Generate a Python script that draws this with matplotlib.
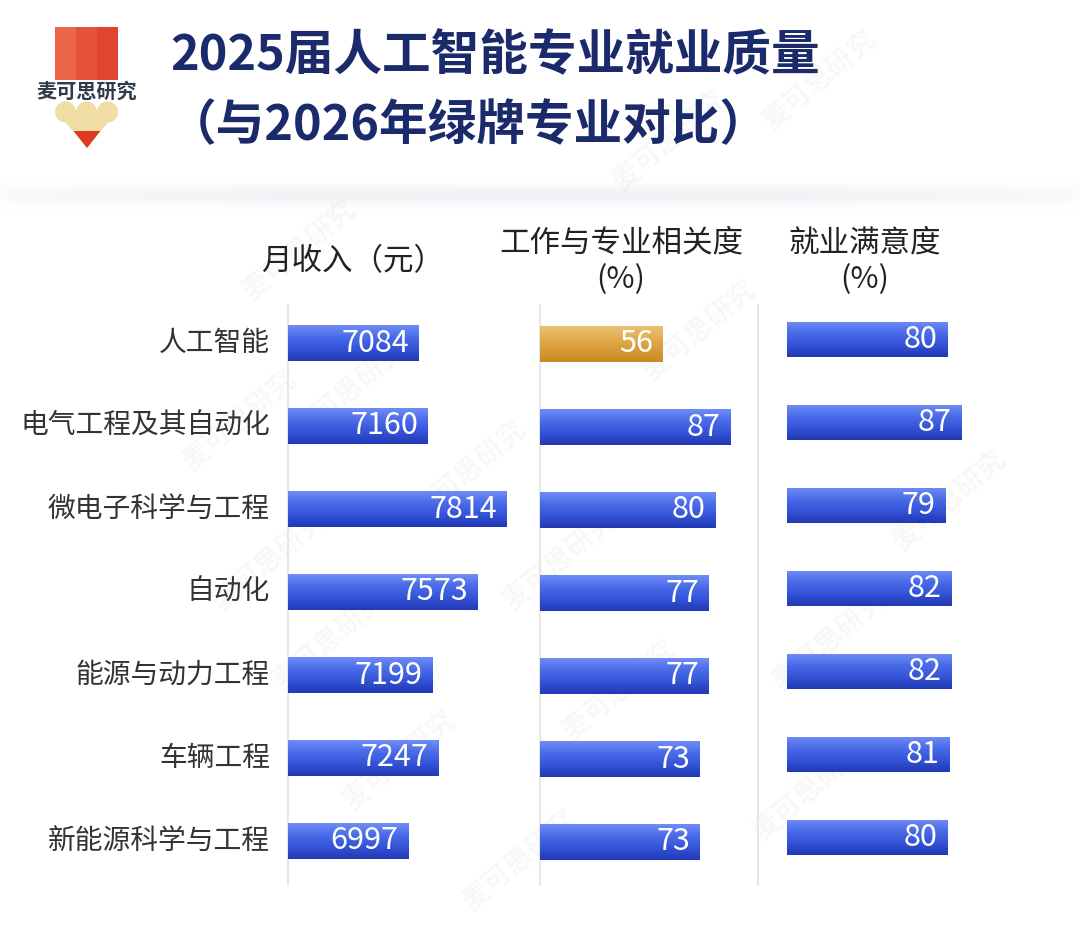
import numpy as np
import matplotlib
matplotlib.use("Agg")
import matplotlib.pyplot as plt
from matplotlib.colors import LinearSegmentedColormap
from matplotlib.patches import Rectangle, Polygon, Circle

plt.rcParams['font.family'] = ['Noto Sans CJK SC', 'DejaVu Sans']

# data
majors = ["人工智能", "电气工程及其自动化", "微电子科学与工程", "自动化",
          "能源与动力工程", "车辆工程", "新能源科学与工程"]
income = [7084, 7160, 7814, 7573, 7199, 7247, 6997]
relevance = [56, 87, 80, 77, 77, 73, 73]
satisfaction = [80, 87, 79, 82, 82, 81, 80]

W, H = 1080, 932
fig = plt.figure(figsize=(W / 100, H / 100), dpi=100)
fig.patch.set_facecolor("white")

# background axes in pixel coordinates
bg = fig.add_axes([0, 0, 1, 1], zorder=0)
bg.set_xlim(0, W)
bg.set_ylim(H, 0)
bg.axis("off")

# soft shadow band under the header
band = np.exp(-((np.linspace(0, 1, 60) - 0.45) / 0.22) ** 2)
band = np.tile(band[:, None], (1, 200)) * np.tile(np.sin(np.linspace(0.05, np.pi - 0.05, 200)) ** 0.4, (60, 1))
shadow = LinearSegmentedColormap.from_list("sh", ["#ffffff", "#f0f1f5"])
bg.imshow(band, extent=(0, W, 218, 176), cmap=shadow, aspect="auto", zorder=0)

# watermarks
for (wx, wy) in [(300, 250), (350, 390), (470, 470), (270, 560), (330, 640), (560, 560),
                 (620, 690), (400, 760), (520, 860), (670, 140), (820, 80), (700, 330),
                 (830, 640), (810, 790), (240, 420), (950, 500)]:
    bg.text(wx, wy, "麦可思研究", rotation=40, fontsize=20, color="#000000", alpha=0.03,
            ha="center", va="center", fontweight="bold", zorder=1)

# logo
for i, c in enumerate(["#eb6549", "#e5523b", "#df4530"]):
    bg.add_patch(Rectangle((55 + 21 * i, 27), 21, 53, color=c, lw=0, zorder=3))
bg.text(86.5, 91, "麦可思研究", fontsize=14.5, color="#2f3b4c", ha="center", va="center",
        fontweight="bold", zorder=3)
cream = "#efdda3"
bg.add_patch(Polygon([(55, 110), (118, 110), (87, 148)], closed=True, color=cream, lw=0, zorder=3))
for cx in (65.5, 86.5, 107.5):
    bg.add_patch(Circle((cx, 112), 10.5, color=cream, lw=0, zorder=3))
bg.add_patch(Polygon([(73.6, 131), (100.4, 131), (87, 148)], closed=True, color="#dc3b22", lw=0, zorder=4))

# title
title_color = "#1b2a6b"
bg.text(170, 56, "2025届人工智能专业就业质量", fontsize=35, fontweight="bold",
        color=title_color, ha="left", va="center", zorder=3)
bg.text(168, 126, "（与2026年绿牌专业对比）", fontsize=35, fontweight="bold",
        color=title_color, ha="left", va="center", zorder=3)

# column headers
hc = "#222222"
bg.text(353, 262, "月收入（元）", fontsize=22, color=hc, ha="center", va="center", zorder=3)
bg.text(621, 243, "工作与专业相关度", fontsize=22, color=hc, ha="center", va="center", zorder=3)
bg.text(621, 280, "(%)", fontsize=22, color=hc, ha="center", va="center", zorder=3)
bg.text(865, 243, "就业满意度", fontsize=22, color=hc, ha="center", va="center", zorder=3)
bg.text(865, 280, "(%)", fontsize=22, color=hc, ha="center", va="center", zorder=3)

# divider lines
for lx in (288, 540, 758):
    bg.plot([lx, lx], [305, 885], color="#e3e3e3", lw=1.2, zorder=2)

blue_cm = LinearSegmentedColormap.from_list("b", ["#6f8cf6", "#4a6be8", "#3453d8", "#2239b4"])
gold_cm = LinearSegmentedColormap.from_list("g", ["#ecc070", "#dca444", "#c98a22"])
grad = np.linspace(0, 1, 64)[:, None]


def panel(x0_px, x1_px, xlim, values, top_px, fmt, colors):
    row = 83.0
    y_top = (305 - top_px) / row
    y_bot = (885 - top_px) / row
    ax = fig.add_axes([x0_px / W, 1 - 885 / H, (x1_px - x0_px) / W, 580 / H], zorder=5)
    ax.patch.set_alpha(0)
    y = np.arange(len(values))
    bars = ax.barh(y, values, left=xlim[0], height=0.425, color="#3453d8", lw=0)
    for b, v, cm in zip(bars, values, colors):
        bx, by = b.get_x(), b.get_y()
        bw, bh = b.get_width(), b.get_height()
        im = ax.imshow(grad, extent=(bx, bx + bw, by + bh, by), cmap=cm,
                       aspect="auto", origin="upper", zorder=3)
        im.set_clip_path(b)
        b.set_zorder(2)
        ax.annotate(fmt(v), (xlim[0] + v, b.get_y() + bh / 2), xytext=(-7, 0),
                    textcoords="offset points", ha="right", va="center",
                    fontsize=22, color="white", zorder=4)
    ax.set_xlim(*xlim)
    ax.set_ylim(y_bot, y_top)
    ax.axis("off")
    return ax


ax1 = panel(288, 529, (6000, 8000), [v - 6000 for v in income], 343,
            lambda v: str(int(v + 6000)), [blue_cm] * 7)
ax2 = panel(540, 759, (0, 100), relevance, 344, lambda v: str(v),
            [gold_cm] + [blue_cm] * 6)
ax3 = panel(787, 987, (0, 100), satisfaction, 339.5, lambda v: str(v), [blue_cm] * 7)

# category labels
for i, m in enumerate(majors):
    bg.text(270, 343 + 83 * i, m, fontsize=20, color="#333333", ha="right", va="center", zorder=3)

fig.savefig("out.png", dpi=100)
